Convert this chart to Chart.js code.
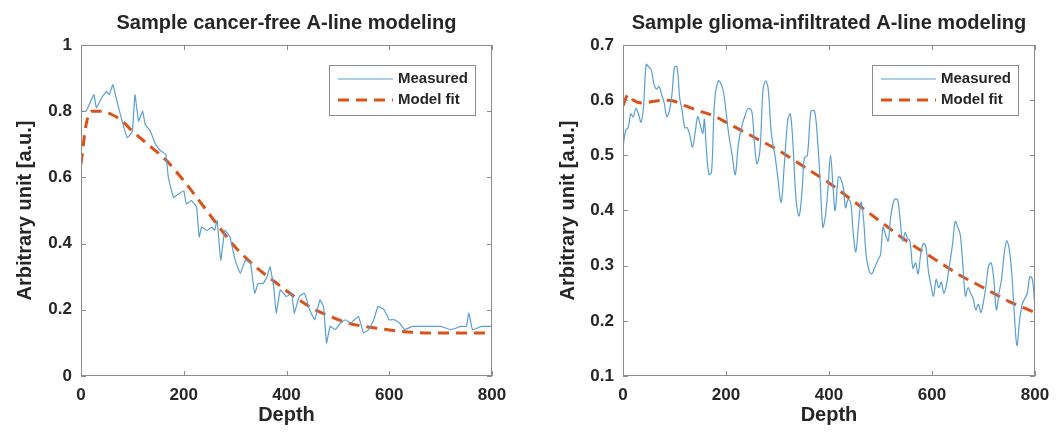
<!DOCTYPE html>
<html>
<head>
<meta charset="utf-8">
<script src="https://cdn.jsdelivr.net/npm/chart.js@4.4.1/dist/chart.umd.min.js"></script>
<style>
  html, body { margin: 0; padding: 0; background: #fff; }
  .panel { position: absolute; top: 0; width: 530px; height: 434px; }
</style>
</head>
<body>
<div class="panel" style="left:0px"><canvas id="left-chart"></canvas></div>
<div class="panel" style="left:529px"><canvas id="right-chart"></canvas></div>
<script>
// cancer-free A-line
var leftDepth = [0,10,25,30,40,50,55,62,70,80,90,100,105,112,120,125,135,145,155,165,170,180,190,200,205,215,225,230,235,245,255,260,265,272,280,290,300,310,320,330,338,345,355,362,368,375,380,388,400,410,415,425,435,445,455,465,472,478,485,495,505,515,525,540,550,560,570,578,590,600,610,620,630,645,660,680,700,720,740,750,755,762,780,800];
var leftMeasured = [0.80,0.80,0.85,0.81,0.84,0.86,0.85,0.88,0.83,0.77,0.72,0.74,0.85,0.77,0.80,0.76,0.74,0.70,0.68,0.67,0.60,0.54,0.55,0.56,0.52,0.53,0.51,0.42,0.45,0.44,0.45,0.44,0.47,0.35,0.44,0.42,0.35,0.31,0.35,0.34,0.25,0.28,0.28,0.30,0.33,0.27,0.19,0.26,0.24,0.25,0.19,0.24,0.25,0.20,0.17,0.23,0.21,0.10,0.15,0.14,0.16,0.17,0.16,0.18,0.13,0.14,0.17,0.21,0.20,0.17,0.17,0.16,0.14,0.15,0.15,0.15,0.15,0.14,0.15,0.15,0.19,0.14,0.15,0.15];
var leftFitDepth = [0,10,20,40,60,80,100,130,167,200,230,264,300,340,381,420,450,485,520,550,582,620,686,750,800];
var leftFit = [0.64,0.76,0.80,0.80,0.79,0.77,0.74,0.70,0.65,0.59,0.53,0.46,0.39,0.33,0.28,0.235,0.205,0.18,0.16,0.15,0.143,0.135,0.13,0.13,0.13];

// glioma-infiltrated A-line
var rightDepth = [0,5,10,15,20,25,30,35,40,45,50,55,60,65,70,75,80,85,90,95,100,105,110,115,120,125,130,135,140,145,150,155,158,162,167,172,178,185,190,195,200,205,212,218,224,230,238,243,250,255,260,266,272,277,282,288,295,300,307,313,320,325,330,336,342,348,352,358,365,372,378,383,388,393,398,403,408,412,418,422,428,432,437,442,447,452,457,462,467,472,478,483,488,495,500,505,510,515,520,527,533,538,543,548,552,557,563,568,573,578,583,588,593,598,603,608,613,618,623,628,633,640,645,650,655,660,665,670,675,680,685,690,695,700,705,710,715,720,725,730,735,740,745,750,755,760,765,770,775,780,785,790,795,800];
var rightMeasured = [0.514,0.545,0.55,0.575,0.57,0.585,0.575,0.56,0.59,0.665,0.66,0.655,0.63,0.62,0.625,0.61,0.595,0.57,0.58,0.61,0.66,0.66,0.605,0.58,0.55,0.55,0.535,0.515,0.54,0.57,0.555,0.54,0.565,0.51,0.465,0.47,0.60,0.635,0.63,0.615,0.58,0.54,0.50,0.465,0.52,0.55,0.575,0.585,0.58,0.525,0.485,0.51,0.62,0.635,0.62,0.54,0.50,0.465,0.415,0.48,0.565,0.575,0.52,0.42,0.39,0.44,0.495,0.50,0.58,0.58,0.525,0.45,0.37,0.39,0.44,0.50,0.44,0.40,0.46,0.46,0.44,0.405,0.42,0.415,0.36,0.325,0.37,0.415,0.385,0.32,0.29,0.285,0.295,0.31,0.32,0.37,0.355,0.345,0.39,0.42,0.42,0.385,0.345,0.36,0.35,0.345,0.295,0.305,0.285,0.32,0.34,0.335,0.29,0.265,0.245,0.275,0.26,0.27,0.25,0.265,0.295,0.34,0.38,0.37,0.355,0.30,0.245,0.26,0.25,0.24,0.22,0.23,0.215,0.235,0.265,0.30,0.305,0.275,0.22,0.25,0.275,0.32,0.345,0.33,0.285,0.21,0.155,0.20,0.23,0.24,0.25,0.28,0.275,0.22];
var rightFitDepth = [0,10,20,40,60,80,100,120,150,180,200,250,300,350,400,450,500,550,600,650,700,750,800];
var rightFit = [0.59,0.61,0.60,0.595,0.598,0.60,0.598,0.59,0.58,0.57,0.56,0.535,0.51,0.48,0.45,0.415,0.38,0.345,0.315,0.285,0.26,0.235,0.215];

var depthTicks = [0, 200, 400, 600, 800];

var FONT = "'Liberation Sans', Arial, sans-serif";
var TEXT = '#262626';
var FRAME = '#8c8c8c';
var BLUE = '#5b9fd2';
var ORANGE = '#d95319';

function pairs(xs, ys) {
  return xs.map(function (x, i) { return { x: x, y: ys[i] }; });
}

// box, inward ticks, title and legend like the figure
var framePlugin = {
  id: 'frame',
  afterDraw: function (chart, args, opts) {
    var ctx = chart.ctx, a = chart.chartArea;
    var xs = chart.scales.x, ys = chart.scales.y;
    ctx.save();
    ctx.strokeStyle = FRAME;
    ctx.lineWidth = 1;
    ctx.strokeRect(a.left + 0.5, a.top + 0.5, a.right - a.left - 1, a.bottom - a.top - 1);
    ctx.beginPath();
    xs.ticks.forEach(function (t) {
      var px = Math.round(xs.getPixelForValue(t.value)) + 0.5;
      ctx.moveTo(px, a.bottom); ctx.lineTo(px, a.bottom - 5);
      ctx.moveTo(px, a.top); ctx.lineTo(px, a.top + 5);
    });
    ys.ticks.forEach(function (t) {
      var py = Math.round(ys.getPixelForValue(t.value)) + 0.5;
      ctx.moveTo(a.left, py); ctx.lineTo(a.left + 5, py);
      ctx.moveTo(a.right, py); ctx.lineTo(a.right - 5, py);
    });
    ctx.stroke();

    // title
    ctx.fillStyle = TEXT;
    ctx.font = 'bold 20px ' + FONT;
    ctx.textAlign = 'center';
    ctx.textBaseline = 'middle';
    ctx.fillText(opts.title, (a.left + a.right) / 2, 23);

    // legend
    var bw = 146, bh = 50;
    var bx = a.right - 17 - bw, by = a.top + 20;
    ctx.fillStyle = '#fff';
    ctx.fillRect(bx, by, bw, bh);
    ctx.strokeStyle = FRAME;
    ctx.strokeRect(bx + 0.5, by + 0.5, bw, bh);
    var items = [
      { text: 'Measured', color: BLUE, width: 1.2, dash: [] },
      { text: 'Model fit', color: ORANGE, width: 3, dash: [11, 7] }
    ];
    items.forEach(function (it, i) {
      var y = by + 14 + i * 21;
      ctx.beginPath();
      ctx.setLineDash(it.dash);
      ctx.strokeStyle = it.color;
      ctx.lineWidth = it.width;
      ctx.moveTo(bx + 9, y); ctx.lineTo(bx + 64, y);
      ctx.stroke();
      ctx.setLineDash([]);
      ctx.fillStyle = TEXT;
      ctx.font = 'bold 15px ' + FONT;
      ctx.textAlign = 'left';
      ctx.fillText(it.text, bx + 69, y);
    });
    ctx.restore();
  }
};

function makeChart(id, cfg) {
  return new Chart(document.getElementById(id), {
    type: 'line',
    data: {
      datasets: [
        {
          label: 'Measured',
          data: pairs(cfg.depth, cfg.measured),
          borderColor: BLUE,
          borderWidth: 1.2,
          pointRadius: 0,
          tension: cfg.tension
        },
        {
          label: 'Model fit',
          data: pairs(cfg.fitDepth, cfg.fit),
          borderColor: ORANGE,
          borderWidth: 3,
          borderDash: [11, 7],
          pointRadius: 0,
          cubicInterpolationMode: 'monotone'
        }
      ]
    },
    options: {
      responsive: true,
      maintainAspectRatio: false,
      animation: false,
      layout: { padding: { top: 45, left: 0, right: cfg.padRight, bottom: 0 } },
      plugins: {
        legend: { display: false },
        tooltip: { enabled: false },
        frame: { title: cfg.title }
      },
      scales: {
        x: {
          type: 'linear',
          min: 0, max: 800,
          afterBuildTicks: function (s) { s.ticks = depthTicks.map(function (v) { return { value: v }; }); },
          afterFit: function (s) { s.height = 58; },
          grid: { display: false, drawTicks: false },
          border: { display: false },
          ticks: { padding: 9, color: TEXT, font: { family: FONT, size: 17, weight: 'bold' }, maxRotation: 0 },
          title: { display: true, text: 'Depth', color: TEXT, padding: { top: 0, bottom: 7 }, font: { family: FONT, size: 20, weight: 'bold' } }
        },
        y: {
          min: cfg.yMin, max: cfg.yMax,
          ticks: {
            stepSize: cfg.yStep, padding: 9, color: TEXT,
            font: { family: FONT, size: 17, weight: 'bold' },
            callback: function (v) { return String(Number(v.toFixed(2))); }
          },
          afterFit: function (s) { s.width = cfg.yWidth; },
          grid: { display: false, drawTicks: false },
          border: { display: false },
          title: { display: true, text: 'Arbitrary unit [a.u.]', color: TEXT, padding: { top: cfg.yTitlePad, bottom: 0 }, font: { family: FONT, size: 20, weight: 'bold' } }
        }
      }
    },
    plugins: [framePlugin]
  });
}

makeChart('left-chart', {
  title: 'Sample cancer-free A-line modeling',
  depth: leftDepth, measured: leftMeasured,
  fitDepth: leftFitDepth, fit: leftFit,
  yMin: 0, yMax: 1, yStep: 0.2, tension: 0.1,
  yWidth: 81, padRight: 38, yTitlePad: 13
});

makeChart('right-chart', {
  title: 'Sample glioma-infiltrated A-line modeling',
  depth: rightDepth, measured: rightMeasured,
  fitDepth: rightFitDepth, fit: rightFit,
  yMin: 0.1, yMax: 0.7, yStep: 0.1, tension: 0.35,
  yWidth: 94, padRight: 24, yTitlePad: 27
});
</script>
</body>
</html>
